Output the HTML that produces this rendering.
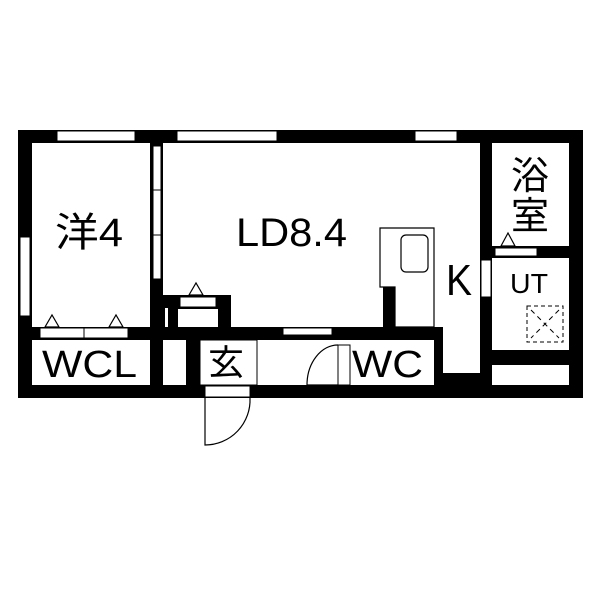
<!DOCTYPE html><html><head><style>body{margin:0;background:#fff}</style></head><body>
<svg width="600" height="600" xmlns="http://www.w3.org/2000/svg" font-family="Liberation Sans, Noto Sans CJK JP, sans-serif">
<rect width="600" height="600" fill="#fff"/>
<rect x="18" y="130" width="565" height="13" fill="#000"/>
<rect x="18" y="385" width="565" height="13" fill="#000"/>
<rect x="18" y="130" width="14" height="268" fill="#000"/>
<rect x="569" y="130" width="14" height="268" fill="#000"/>
<rect x="150" y="130" width="13" height="268" fill="#000"/>
<rect x="18" y="327" width="145" height="13" fill="#000"/>
<rect x="150" y="327" width="293" height="13" fill="#000"/>
<rect x="480" y="130" width="12" height="268" fill="#000"/>
<rect x="480" y="246" width="100" height="12" fill="#000"/>
<rect x="480" y="350" width="100" height="15" fill="#000"/>
<rect x="434" y="327" width="9" height="60" fill="#000"/>
<rect x="434" y="373" width="50" height="20" fill="#000"/>
<rect x="186" y="340" width="14" height="50" fill="#000"/>
<g fill="#fff" stroke="#000" stroke-width="1">
<rect x="57" y="131" width="78" height="10"/>
<rect x="177" y="131" width="100" height="10"/>
<rect x="415" y="131" width="42" height="10"/>
<rect x="20" y="237" width="10" height="79"/>
<rect x="153" y="146" width="8" height="44"/>
<rect x="153" y="190" width="8" height="45"/>
<rect x="153" y="235" width="8" height="44"/>
<rect x="40" y="328" width="44" height="10"/>
<rect x="84" y="328" width="44" height="10"/>
<rect x="283" y="328" width="49" height="7"/>
<rect x="495" y="248" width="42" height="8"/>
<rect x="481" y="260" width="10" height="37"/>
<rect x="338" y="345" width="12" height="40"/>
<rect x="205" y="386" width="45" height="11"/>
</g>
<rect x="163" y="295" width="68" height="32" fill="#000"/>
<rect x="180" y="297" width="36" height="10" fill="#fff" stroke="#000"/>
<rect x="178" y="309" width="40" height="18" fill="#fff"/>
<rect x="165" y="308" width="3" height="19" fill="#fff"/>
<g fill="#fff" stroke="#000" stroke-width="1.2">
<polygon points="45,327 52,315 59,327"/>
<polygon points="109,327 116,315 123,327"/>
<polygon points="189,295 196,283 203,295"/>
<polygon points="501,246 508,233 515,246"/>
</g>
<rect x="200" y="340" width="57" height="45" fill="#fff" stroke="#000"/>
<path d="M205,398 V445 A45,45 0 0 0 250,398" fill="none" stroke="#000" stroke-width="1.2"/>
<path d="M307,385 A31,40 0 0 1 338,345 M307,385 H338" fill="none" stroke="#000" stroke-width="1.2"/>
<path d="M380,228 H434 V327 H395 V287 H380 Z" fill="#fff" stroke="#000" stroke-width="1.2"/>
<rect x="383" y="287" width="12" height="40" fill="#000"/>
<rect x="401" y="235" width="27" height="37" rx="5" fill="#fff" stroke="#000" stroke-width="1.2"/>
<rect x="527" y="306" width="36" height="36" fill="none" stroke="#000" stroke-dasharray="4,3"/>
<path d="M531,310 L559,338 M559,310 L531,338" stroke="#000" stroke-dasharray="5,4"/>
<g fill="#000">
<text x="55" y="246" font-size="40" textLength="68" lengthAdjust="spacingAndGlyphs">洋4</text>
<text x="236" y="246" font-size="40" textLength="111" lengthAdjust="spacingAndGlyphs">LD8.4</text>
<text x="446" y="295" font-size="44" textLength="26" lengthAdjust="spacingAndGlyphs">K</text>
<text x="510" y="293" font-size="28" textLength="38" lengthAdjust="spacingAndGlyphs">UT</text>
<text x="530" y="189" font-size="38" text-anchor="middle">浴</text>
<text x="530" y="229" font-size="38" text-anchor="middle">室</text>
<text x="42" y="377" font-size="38" textLength="95" lengthAdjust="spacingAndGlyphs">WCL</text>
<text x="208" y="375" font-size="35" textLength="36" lengthAdjust="spacingAndGlyphs">玄</text>
<text x="352" y="377" font-size="38" textLength="71" lengthAdjust="spacingAndGlyphs">WC</text>
</g>
</svg>
</body></html>
